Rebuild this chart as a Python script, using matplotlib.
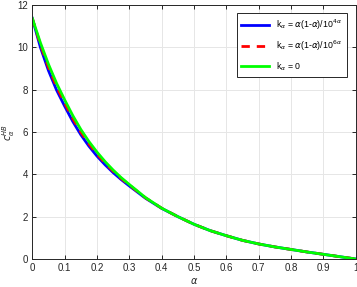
import numpy as np
import matplotlib
matplotlib.use("Agg")
import matplotlib.pyplot as plt

# values
alpha = [0.000, 0.025, 0.050, 0.075, 0.100, 0.125, 0.150, 0.175, 0.200, 0.225,
         0.250, 0.275, 0.300, 0.350, 0.400, 0.450, 0.500, 0.550, 0.600, 0.650,
         0.700, 0.750, 0.800, 0.850, 0.900, 0.950, 1.000]
c_zero = [11.37, 10.22, 9.20, 8.30, 7.52, 6.78, 6.12, 5.55, 5.05, 4.60,
          4.20, 3.84, 3.52, 2.90, 2.40, 2.00, 1.64, 1.34, 1.10, 0.88,
          0.71, 0.57, 0.45, 0.33, 0.22, 0.11, 0.00]
c_k4 = [11.37, 10.00, 8.90, 7.98, 7.22, 6.50, 5.87, 5.33, 4.86, 4.45,
        4.08, 3.75, 3.45, 2.87, 2.39, 2.00, 1.64, 1.34, 1.10, 0.88,
        0.71, 0.57, 0.45, 0.33, 0.22, 0.11, 0.00]
c_k6 = [11.37, 10.12, 9.05, 8.14, 7.37, 6.64, 6.00, 5.44, 4.96, 4.53,
        4.15, 3.80, 3.49, 2.89, 2.40, 2.00, 1.64, 1.34, 1.10, 0.88,
        0.71, 0.57, 0.45, 0.33, 0.22, 0.11, 0.00]

labels = [r"k$_\alpha$ = $\alpha$(1-$\alpha$)/10$^{4\alpha}$",
          r"k$_\alpha$ = $\alpha$(1-$\alpha$)/10$^{6\alpha}$",
          r"k$_\alpha$ = 0"]

plt.rcParams["font.family"] = ["Liberation Sans", "DejaVu Sans"]
plt.rcParams["mathtext.fontset"] = "dejavusans"

fig = plt.figure(figsize=(3.57, 2.87), dpi=100)
ax = fig.add_axes([0.0905, 0.0976, 0.906, 0.885])

ax.plot(alpha, c_k4, color="#0000ff", lw=2.0, label=labels[0])
ax.plot(alpha, c_k6, color="#ff0000", lw=2.0, ls=(0, (3, 2.5)), label=labels[1])
ax.plot(alpha, c_zero, color="#00ff00", lw=2.0, label=labels[2])

ax.set_xlim(0, 1)
ax.set_ylim(0, 12)
ax.set_xticks(np.arange(0, 1.01, 0.1))
ax.set_xticklabels(["0", "0.1", "0.2", "0.3", "0.4", "0.5", "0.6", "0.7", "0.8", "0.9", "1"])
ax.set_yticks(np.arange(0, 13, 2))

ax.grid(True, color="#e6e6e6", lw=0.7)
ax.set_axisbelow(True)
for s in ax.spines.values():
    s.set_color("#262626")
    s.set_linewidth(0.7)
ax.tick_params(direction="in", length=3, width=0.7, colors="#262626",
               labelsize=7, top=True, right=True, pad=3)

ax.set_xlabel(r"$\alpha$", fontsize=7, color="#262626", labelpad=2)
ax.set_ylabel(r"$c_\alpha^{HB}$", fontsize=7, color="#262626", va="center")
ax.yaxis.set_label_coords(-0.072, 0.5)

leg = ax.legend(loc="upper right", bbox_to_anchor=(0.972, 0.968), fontsize=6.3,
                fancybox=False, framealpha=1, edgecolor="#262626",
                handlelength=3.2, borderaxespad=0, borderpad=0.5, labelspacing=0.8)
leg.get_frame().set_linewidth(0.7)

fig.savefig("out.png", dpi=100)
